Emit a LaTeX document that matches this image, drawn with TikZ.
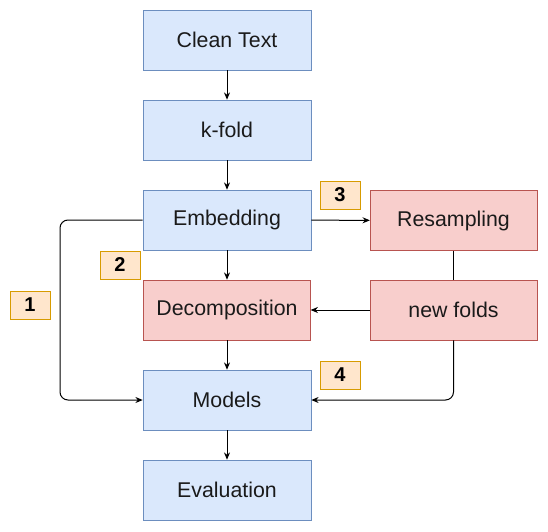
\documentclass[tikz,border=0pt]{standalone}
\usepackage{fontspec}
\setmainfont{Liberation Sans}
\usetikzlibrary{arrows.meta}

\definecolor{bluefill}{HTML}{DAE8FC}
\definecolor{blueline}{HTML}{6C8EBF}
\definecolor{redfill}{HTML}{F8CECC}
\definecolor{redline}{HTML}{B85450}
\definecolor{tagfill}{HTML}{FFE6CC}
\definecolor{tagline}{HTML}{D79B00}
\definecolor{inktext}{HTML}{1A1A1A}

\tikzset{
  bluebox/.style={draw=blueline, fill=bluefill, minimum width=126pt, minimum height=45pt, inner sep=0pt, text=inktext, font=\fontsize{16}{19}\selectfont},
  redbox/.style={draw=redline, fill=redfill, minimum width=125pt, minimum height=45pt, inner sep=0pt, text=inktext, font=\fontsize{16}{19}\selectfont},
  tag/.style={draw=tagline, fill=tagfill, minimum width=30pt, minimum height=21pt, inner sep=0pt, font=\fontsize{15}{17}\selectfont\bfseries},
  flow/.style={-{Stealth[length=5.5pt,width=4.5pt]}, line width=0.75pt}
}

\begin{document}
\begin{tikzpicture}[x=0.75pt, y=-0.75pt]
\useasboundingbox (0,0) rectangle (548,531);

\node[bluebox] (clean) at (227,40) {Clean Text};
\node[bluebox] (kfold) at (227,130) {k-fold};
\node[bluebox] (embed) at (227,220) {Embedding};
\node[redbox] (decomp) at (227,310) {Decomposition};
\node[bluebox] (models) at (227,400) {Models};
\node[bluebox] (eval) at (227,490) {Evaluation};

\node[redbox] (resamp) at (453.5,220.5) {Resampling};
\node[redbox] (newfolds) at (453.5,310) {new folds};

\node[tag] (one) at (30,305) {1};
\node[tag] (two) at (120,265) {2};
\node[tag] (three) at (340,195) {3};
\node[tag] (four) at (340,375) {4};

\coordinate (lefttop) at (60,220);
\coordinate (leftbot) at (60,400);
\coordinate (rightbot) at (453.5,400);

\draw[flow] (clean) -- (kfold);
\draw[flow] (kfold) -- (embed);
\draw[flow] (embed) -- (decomp);
\draw[flow] (decomp) -- (models);
\draw[flow] (models) -- (eval);
\draw[flow] (embed) -- (resamp);
\draw[line width=0.75pt] (resamp) -- (newfolds);
\draw[flow] (newfolds) -- (decomp);
\draw[flow, rounded corners=6pt] (embed.west) -- (lefttop) -- (leftbot) -- (models.west);
\draw[flow, rounded corners=6pt] (newfolds.south) -- (rightbot) -- (models.east);
\end{tikzpicture}
\end{document}
